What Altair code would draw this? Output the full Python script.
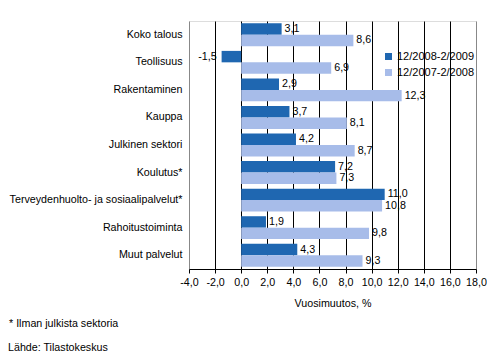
import altair as alt
import pandas as pd

categories = ["Koko talous", "Teollisuus", "Rakentaminen", "Kauppa", "Julkinen sektori",
              "Koulutus*", "Terveydenhuolto- ja sosiaalipalvelut*", "Rahoitustoiminta", "Muut palvelut"]
series = ["12/2008-2/2009", "12/2007-2/2008"]
values_2009 = [3.1, -1.5, 2.9, 3.7, 4.2, 7.2, 11.0, 1.9, 4.3]
values_2008 = [8.6, 6.9, 12.3, 8.1, 8.7, 7.3, 10.8, 9.8, 9.3]
x_ticks = [-4, -2, 0, 2, 4, 6, 8, 10, 12, 14, 16, 18]
colors = ["#1F67B1", "#A7BCE9"]
footnotes = ["* Ilman julkista sektoria", "Lähde: Tilastokeskus"]

rows = []
for s, vals in zip(series, [values_2009, values_2008]):
    for c, v in zip(categories, vals):
        rows.append({"category": c, "series": s, "value": v,
                     "label": f"{v:.1f}".replace(".", ",")})
df = pd.DataFrame(rows)

FONT = "Liberation Sans"
FS = 10.7

y_enc = alt.Y("category:N", sort=categories, title=None,
              scale=alt.Scale(paddingInner=0.17, paddingOuter=0.085),
              axis=alt.Axis(ticks=False, domain=False, labelPadding=7, labelFontSize=FS,
                            labelColor="black", labelFont=FONT, labelLimit=300))
yoff_enc = alt.YOffset("series:N", sort=series, scale=alt.Scale(paddingInner=0, paddingOuter=0))
x_enc = alt.X("value:Q", title="Vuosimuutos, %",
              scale=alt.Scale(domain=[-4, 18], nice=False, zero=False),
              axis=alt.Axis(values=x_ticks, labelOverlap=False, labelFlush=False,
                            labelExpr="(datum.value < 0 ? '-' : '') + replace(format(abs(datum.value), '.1f'), '.', ',')",
                            grid=True,
                            gridColor={"condition": {"test": "datum.value == -4 || datum.value == 18", "value": "#888888"}, "value": "black"},
                            gridWidth=1, domainColor="black", tickColor="black", tickSize=4,
                            labelFontSize=FS, labelColor="black", labelFont=FONT, labelPadding=4,
                            titleFontSize=FS, titleFont=FONT, titleFontWeight="normal",
                            titleColor="black", titlePadding=12))

base = alt.Chart(df)

bars = base.mark_bar().encode(
    y=y_enc, yOffset=yoff_enc, x=x_enc,
    color=alt.Color("series:N", scale=alt.Scale(domain=series, range=colors),
                    legend=alt.Legend(title=None, orient="none", legendX=194, legendY=30,
                                      symbolType="square", symbolSize=49, symbolStrokeWidth=0,
                                      labelFontSize=11, labelFont=FONT, labelColor="black",
                                      labelOffset=3, rowPadding=4)),
)

pos_text = base.transform_filter("datum.value >= 0").mark_text(
    align="left", baseline="middle", dx=3, fontSize=FS, font=FONT, color="black"
).encode(y=y_enc, yOffset=yoff_enc, x=x_enc, text="label:N")

neg_text = base.transform_filter("datum.value < 0").mark_text(
    align="right", baseline="middle", dx=-5, fontSize=FS, font=FONT, color="black"
).encode(y=y_enc, yOffset=yoff_enc, x=x_enc, text="label:N")

notes_df = pd.DataFrame({"t": footnotes, "row": [0, 1]})
note1 = alt.Chart(notes_df).transform_filter("datum.row == 0").mark_text(
    align="left", baseline="middle", fontSize=FS, font=FONT, color="black"
).encode(x=alt.value(-180), y=alt.value(303), text="t:N")
note2 = alt.Chart(notes_df).transform_filter("datum.row == 1").mark_text(
    align="left", baseline="middle", fontSize=FS, font=FONT, color="black"
).encode(x=alt.value(-181), y=alt.value(327), text="t:N")

chart = alt.layer(bars, pos_text, neg_text, note1, note2).properties(
    width=287, height=248,
    autosize=alt.AutoSizeParams(type="none"),
    padding={"left": 181, "top": 13, "right": 11, "bottom": 84},
).configure_view(stroke="#888888", strokeWidth=1).configure(background="white")

chart.save("out.html", embed_options={"renderer": "svg", "actions": False})
